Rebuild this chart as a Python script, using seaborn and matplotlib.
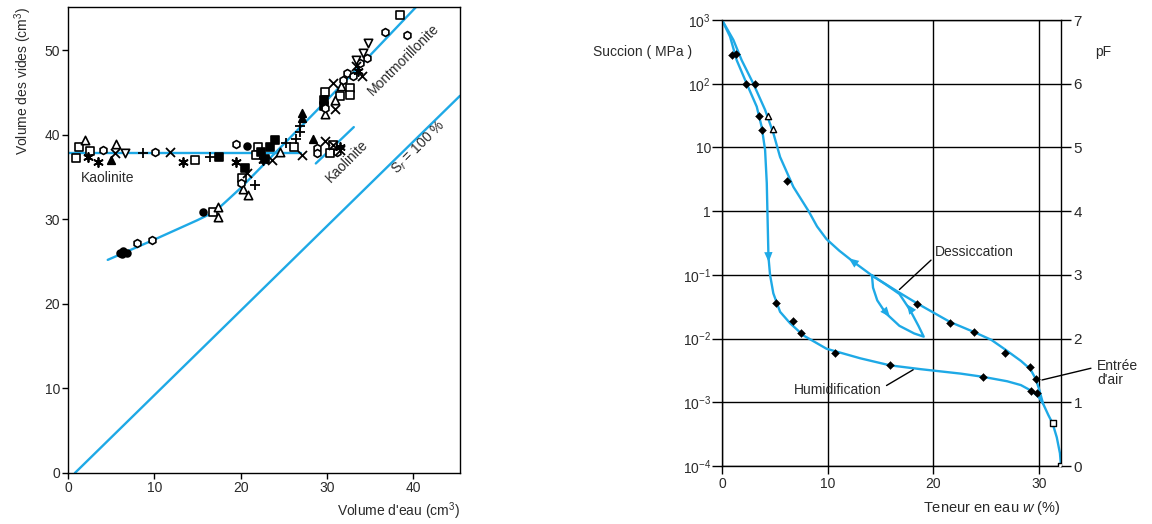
import numpy as np
import pandas as pd
import seaborn as sns
import matplotlib.pyplot as plt
from matplotlib.ticker import NullLocator, FixedLocator

sns.set_theme(style="ticks")
plt.rcParams['font.family'] = ['Liberation Sans', 'DejaVu Sans']
plt.rcParams['mathtext.fontset'] = 'custom'
plt.rcParams['mathtext.rm'] = 'Liberation Sans'
plt.rcParams['mathtext.it'] = 'Liberation Sans:italic'
plt.rcParams['mathtext.bf'] = 'Liberation Sans:bold'

BLUE = '#1ea9e6'
TXT = '#2a2a2a'

# ---------------- Left chart data ----------------
sr100_x = [0.8, 45.4]
sr100_y = [0.0, 44.6]
kaol_h_x = [0.0, 27.0]
kaol_h_y = [37.8, 37.8]
kaol_d_x = [28.7, 33.1]
kaol_d_y = [36.6, 40.9]
mont_x = [4.6, 10.0, 15.0, 17.0, 18.3, 20.0, 25.0, 30.0, 35.0, 40.5]
mont_y = [25.2, 27.6, 29.9, 30.9, 32.1, 33.7, 38.9, 44.1, 49.4, 55.3]

open_sq_x = [0.93, 1.3, 2.6, 14.7, 22.0, 26.2, 30.4, 30.7, 21.8, 16.8, 20.1, 29.8, 32.7, 32.7, 38.5, 31.5]
open_sq_y = [37.3, 38.6, 38.1, 37.0, 38.6, 38.6, 37.8, 38.8, 37.6, 30.9, 34.9, 45.0, 45.5, 44.7, 54.2, 44.6]
fill_sq_x = [17.5, 22.4, 22.8, 24.0, 23.4, 20.5, 29.6, 29.7]
fill_sq_y = [37.4, 38.0, 37.1, 39.4, 38.6, 36.1, 44.1, 43.4]
open_tri_x = [2.0, 5.6, 24.6, 17.4, 17.4, 20.8, 20.3, 29.8, 30.9, 31.6]
open_tri_y = [39.4, 38.9, 38.0, 31.5, 30.3, 32.9, 33.6, 42.4, 44.1, 45.8]
fill_tri_x = [5.0, 28.4, 27.1, 27.1]
fill_tri_y = [37.0, 39.5, 42.6, 42.0]
open_circ_x = [4.1, 10.1, 19.5, 28.8, 28.8, 8.0, 9.7, 29.8, 20.0, 31.2, 32.3, 33.0, 34.6, 36.7, 39.3, 33.8, 31.9]
open_circ_y = [38.2, 38.0, 38.9, 38.4, 37.8, 27.2, 27.5, 43.2, 34.3, 37.9, 47.3, 46.9, 49.1, 52.1, 51.8, 48.5, 46.5]
fill_circ_x = [20.7, 15.6, 6.0, 6.4, 6.8, 6.2]
fill_circ_y = [38.7, 30.9, 26.0, 26.2, 26.0, 25.9]
plus_x = [8.7, 16.5, 25.2, 26.4, 26.9, 21.7, 26.9]
plus_y = [37.8, 37.4, 39.0, 39.5, 41.0, 34.1, 40.3]
cross_x = [5.4, 11.8, 23.6, 27.1, 29.8, 30.7, 31.5, 20.7, 30.9, 30.7, 34.1, 33.3]
cross_y = [37.8, 37.9, 37.0, 37.6, 39.2, 38.8, 38.2, 35.5, 43.0, 46.1, 46.9, 48.1]
star_x = [2.3, 3.5, 13.3, 19.4, 31.5, 22.6, 33.6]
star_y = [37.4, 36.8, 36.8, 36.8, 38.6, 37.0, 47.5]
inv_tri_x = [6.6, 34.2, 34.8, 33.4]
inv_tri_y = [37.8, 49.7, 50.9, 48.8]

# ---------------- Right chart data ----------------
humid_w = [0.0, 0.76, 1.39, 2.34, 3.29, 3.76, 4.08, 4.24, 4.3, 4.4, 4.55, 4.86, 5.5, 6.45,
           7.7, 9.9, 13.1, 15.9, 18.8, 22.6, 24.7, 27.0, 28.3, 29.3, 30.0, 30.4,
           30.9, 31.3, 31.7, 32.0, 32.1]
humid_logs = [3.0, 2.74, 2.37, 2.0, 1.64, 1.32, 0.96, 0.44, 0.0, -0.72, -1.0, -1.29, -1.58, -1.76,
              -1.95, -2.16, -2.31, -2.42, -2.48, -2.55, -2.60, -2.67, -2.73, -2.82, -2.92, -3.02,
              -3.2, -3.33, -3.55, -3.8, -4.0]
dess_w = [0.0, 1.07, 1.86, 2.97, 4.08, 4.87, 5.5, 6.76, 8.2, 9.0, 9.9, 11.1, 12.4, 14.2, 16.5,
          18.5, 21.6, 23.9, 25.5, 26.8, 28.3, 29.2, 29.7, 30.0, 30.4]
dess_logs = [3.0, 2.69, 2.37, 2.0, 1.59, 1.22, 0.85, 0.38, 0.0, -0.24, -0.44, -0.62, -0.79, -1.01, -1.25,
             -1.45, -1.74, -1.90, -2.02, -2.17, -2.35, -2.48, -2.63, -2.78, -3.02]
loop_w = [14.2, 14.3, 14.7, 15.5, 16.8, 18.2, 19.1, 18.6, 17.8, 16.8, 15.5, 14.2]
loop_logs = [-1.01, -1.2, -1.4, -1.6, -1.8, -1.92, -1.97, -1.8, -1.55, -1.3, -1.15, -1.01]

dots_w = [0.95, 1.35, 2.25, 3.13, 3.5, 3.83, 6.2, 5.1, 6.77, 7.5, 10.7, 15.9, 24.7, 29.3, 29.8,
          18.5, 21.6, 23.9, 26.8, 29.2, 29.7]
dots_logs = [2.45, 2.47, 2.0, 2.0, 1.49, 1.27, 0.47, -1.44, -1.72, -1.92, -2.22, -2.42, -2.60, -2.82, -2.85,
             -1.45, -1.75, -1.90, -2.22, -2.45, -2.63]
otri_w = [4.4, 4.8]
otri_logs = [1.5, 1.29]
osq_w = [31.3, 32.1]
osq_logs = [-3.33, -4.0]

suc_ticks = [1e-4, 1e-3, 1e-2, 1e-1, 1, 10, 1e2, 1e3]
suc_labels = [r'$10^{-4}$', r'$10^{-3}$', r'$10^{-2}$', r'$10^{-1}$', '1', '10', r'$10^{2}$', r'$10^{3}$']
pf_ticks = [0, 1, 2, 3, 4, 5, 6, 7]

W, H = 1152, 524
fig = plt.figure(figsize=(W / 100, H / 100), dpi=100)

# ================= LEFT =================
ax = fig.add_axes([68 / W, 1 - 473 / H, 392 / W, 466 / H])
for xs, ys in [(sr100_x, sr100_y), (kaol_h_x, kaol_h_y), (kaol_d_x, kaol_d_y), (mont_x, mont_y)]:
    sns.lineplot(x=xs, y=ys, sort=False, estimator=None, color=BLUE, lw=1.7, ax=ax)

groups = [
    (open_sq_x, open_sq_y, 's', 'white', 32),
    (fill_sq_x, fill_sq_y, 's', 'black', 32),
    (open_tri_x, open_tri_y, '^', 'white', 36),
    (fill_tri_x, fill_tri_y, '^', 'black', 30),
    (open_circ_x, open_circ_y, 'h', 'white', 32),
    (fill_circ_x, fill_circ_y, 'o', 'black', 24),
    (inv_tri_x, inv_tri_y, 'v', 'white', 36),
]
for xs, ys, m, fc, s in groups:
    sns.scatterplot(x=xs, y=ys, marker=m, color=fc, edgecolor='black', linewidth=1.2, s=s, ax=ax, zorder=3)
for xs, ys, m in [(plus_x, plus_y, '+'), (cross_x, cross_y, 'x'), (star_x, star_y, (6, 2, 0))]:
    sns.scatterplot(x=xs, y=ys, marker=m, color='black', linewidth=1.3, s=42, ax=ax, zorder=3)

ax.set_xlim(0, 45.4)
ax.set_ylim(0, 55.1)
ax.set_xticks([0, 10, 20, 30, 40])
ax.set_yticks([0, 10, 20, 30, 40, 50])
for sp in ax.spines.values():
    sp.set_color('black')
    sp.set_linewidth(1.0)
ax.tick_params(direction='out', length=4.5, width=1, colors='black', labelcolor=TXT, labelsize=10, pad=1)
ax.set_ylabel('Volume des vides (cm$^{3}$)', loc='top', fontsize=10, color=TXT, labelpad=8)
ax.set_xlabel("Volume d'eau (cm$^{3}$)", loc='right', fontsize=10, color=TXT, labelpad=4)

ax.text(1.5, 34.9, 'Kaolinite', fontsize=10, color=TXT, ha='left', va='center')
ax.text(38.9, 48.9, 'Montmorillonite', fontsize=10, color=TXT, rotation=45,
        rotation_mode='anchor', ha='center', va='center')
ax.text(32.3, 36.9, 'Kaolinite', fontsize=10, color=TXT, rotation=45,
        rotation_mode='anchor', ha='center', va='center')
ax.text(40.6, 38.5, r'S$_{\mathit{r}}$ = 100 %', fontsize=10, color=TXT, rotation=45,
        rotation_mode='anchor', ha='center', va='center')

# ================= RIGHT =================
bx = fig.add_axes([722 / W, 1 - 466 / H, 339 / W, 446 / H])
bx.set_yscale('log')
sns.lineplot(x=humid_w, y=[10 ** v for v in humid_logs], sort=False, estimator=None, color=BLUE, lw=1.7, ax=bx)
sns.lineplot(x=dess_w, y=[10 ** v for v in dess_logs], sort=False, estimator=None, color=BLUE, lw=1.7, ax=bx)
sns.lineplot(x=loop_w, y=[10 ** v for v in loop_logs], sort=False, estimator=None, color=BLUE, lw=1.7, ax=bx)
sns.scatterplot(x=dots_w, y=[10 ** v for v in dots_logs], marker='D', color='black', edgecolor='black',
                s=16, ax=bx, zorder=4)
sns.scatterplot(x=otri_w, y=[10 ** v for v in otri_logs], marker='^', color='white', edgecolor='black',
                linewidth=1, s=20, ax=bx, zorder=4)
sns.scatterplot(x=osq_w, y=[10 ** v for v in osq_logs], marker='s', color='white', edgecolor='black',
                linewidth=1, s=14, ax=bx, zorder=4)

arw = dict(arrowstyle='-|>,head_length=0.6,head_width=0.25', color=BLUE, lw=0, shrinkA=0, shrinkB=0)
for (x0, l0, x1, l1) in [(4.38, -0.58, 4.42, -0.80), (12.9, -0.85, 12.0, -0.74),
                         (15.1, -1.50, 15.9, -1.66), (18.2, -1.62, 17.5, -1.46)]:
    bx.annotate('', xy=(x1, 10 ** l1), xytext=(x0, 10 ** l0), arrowprops=arw, zorder=5)

bx.set_xlim(0, 32.1)
bx.set_ylim(1e-4, 1e3)
bx.set_xticks([0, 10, 20, 30])
bx.yaxis.set_major_locator(FixedLocator(suc_ticks))
bx.yaxis.set_minor_locator(NullLocator())
bx.set_yticklabels(suc_labels)
bx.grid(True, which='major', color='black', lw=1.0)
for sp in bx.spines.values():
    sp.set_color('black')
    sp.set_linewidth(1.0)
bx.tick_params(axis='y', direction='out', length=7, width=1, colors='black', labelcolor=TXT, labelsize=10, pad=1)
bx.tick_params(axis='x', direction='out', length=6, width=1, colors='black', labelcolor=TXT, labelsize=10, pad=2)
bx.set_xlabel(r'Teneur en eau $\mathit{w}$ (%)', loc='right', fontsize=10.5, color=TXT, labelpad=6)

b2 = bx.twinx()
b2.set_ylim(0, 7)
b2.set_yticks(pf_ticks)
b2.tick_params(axis='y', direction='out', length=7, width=1, colors='black', labelcolor=TXT, labelsize=11, pad=2)
for sp in b2.spines.values():
    sp.set_visible(False)

fig.text(692 / W, 1 - 52 / H, 'Succion ( MPa )', fontsize=10, color=TXT, ha='right', va='center')
fig.text(1095 / W, 1 - 52 / H, 'pF', fontsize=10, color=TXT, ha='left', va='center')

bx.annotate('Dessiccation', xy=(16.8, 10 ** -1.23), xytext=(20.2, 10 ** -0.64), fontsize=10, color=TXT,
            ha='left', va='center',
            arrowprops=dict(arrowstyle='-', color='black', lw=1, shrinkA=1, shrinkB=0, relpos=(0, 0.2)))
bx.annotate('Humidification', xy=(18.1, 10 ** -2.49), xytext=(11.0, 10 ** -2.80), fontsize=10, color=TXT,
            ha='center', va='center',
            arrowprops=dict(arrowstyle='-', color='black', lw=1, shrinkA=1, shrinkB=0, relpos=(1, 0.6)))
bx.annotate("Entrée\nd'air", xy=(30.3, 10 ** -2.65), xytext=(35.5, 10 ** -2.54), fontsize=10, color=TXT,
            ha='left', va='center', linespacing=1.0, annotation_clip=False,
            arrowprops=dict(arrowstyle='-', color='black', lw=1, shrinkA=2, shrinkB=0, relpos=(0, 0.72)))

fig.savefig('out.png', dpi=100)
